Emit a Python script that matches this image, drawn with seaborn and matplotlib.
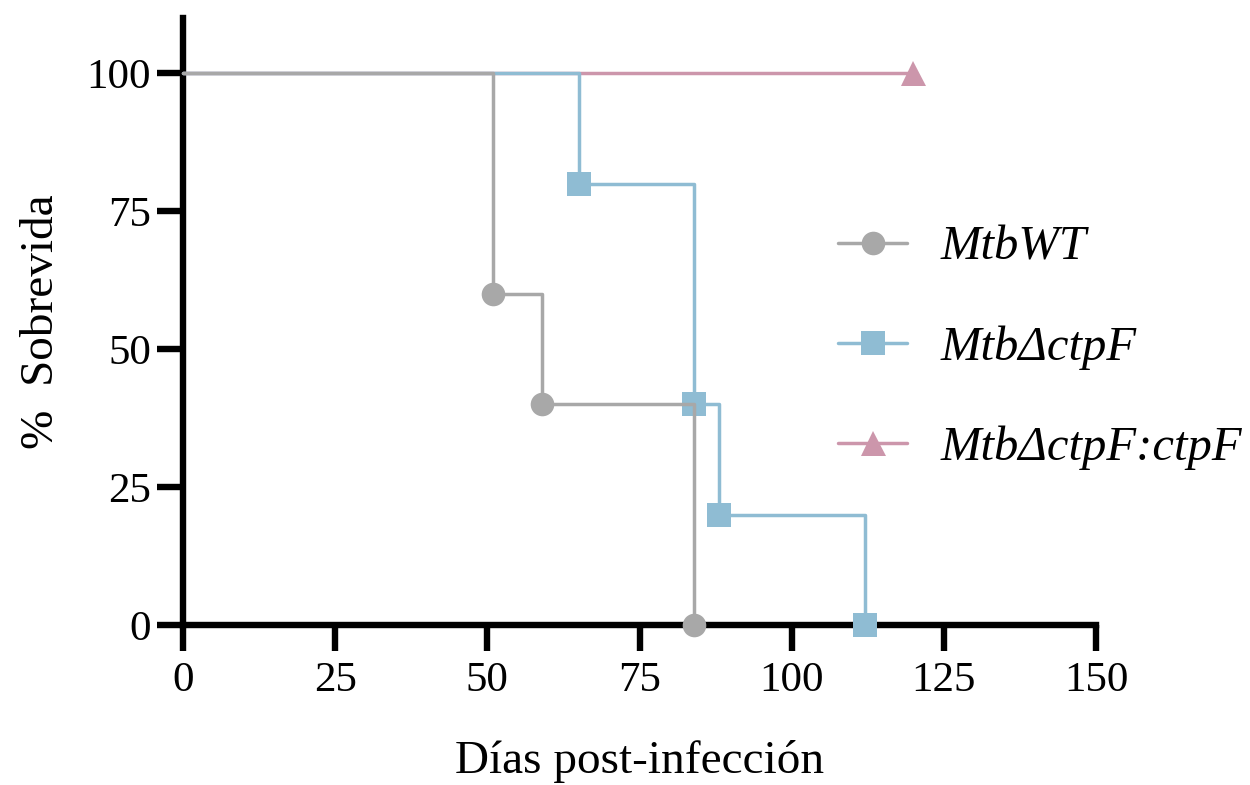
import matplotlib
matplotlib.use("Agg")
import matplotlib.pyplot as plt
from matplotlib.lines import Line2D
import seaborn as sns
import pandas as pd

# ---- data ----
wt_days = [0, 51, 59, 84]
wt_surv = [100, 60, 40, 0]
ko_days = [0, 65, 84, 88, 112]
ko_surv = [100, 80, 40, 20, 0]
comp_days = [0, 120]
comp_surv = [100, 100]

labels = ["MtbWT", "MtbΔctpF", "MtbΔctpF:ctpF"]
colors = ["#A8A8A8", "#8FBCD3", "#CC96AB"]
markers = ["o", "s", "^"]
xticks = [0, 25, 50, 75, 100, 125, 150]
yticks = [0, 25, 50, 75, 100]

sns.set_theme(style="ticks")
plt.rcParams["font.family"] = ["Liberation Serif", "DejaVu Serif"]
plt.rcParams["text.color"] = "black"

fig = plt.figure(figsize=(12.5, 7.85), dpi=100)
ax = fig.add_axes([183 / 1250, 160 / 785, 913 / 1250, 607 / 785])

series = [
    (comp_days, comp_surv, 2),
    (ko_days, ko_surv, 1),
    (wt_days, wt_surv, 0),
]
for days, surv, i in series:
    df = pd.DataFrame({"d": days, "s": surv})
    sns.lineplot(data=df, x="d", y="s", ax=ax, estimator=None, sort=False,
                 color=colors[i], linewidth=2.5, drawstyle="steps-post",
                 marker=markers[i], markersize=17 if i != 2 else 18,
                 markeredgewidth=0, markevery=list(range(1, len(days))),
                 clip_on=False, zorder=3 + (2 - i), legend=False)

ax.set_xlim(0, 150)
ax.set_ylim(0, 110)
ax.set_xticks(xticks)
ax.set_yticks(yticks)
ax.set_xticklabels([str(t) for t in xticks])
ax.set_yticklabels([str(t) for t in yticks])

for s in ["top", "right"]:
    ax.spines[s].set_visible(False)
for s in ["left", "bottom"]:
    ax.spines[s].set_linewidth(4.6)
    ax.spines[s].set_color("black")
    ax.spines[s].set_zorder(2)
ax.tick_params(axis="both", direction="out", length=19, width=4.6,
               color="black", labelsize=31, labelcolor="black")
ax.tick_params(axis="x", pad=7)
ax.tick_params(axis="y", pad=4)

ax.set_xlabel("Días post-infección", fontsize=34, color="black")
ax.set_ylabel("%  Sobrevida", fontsize=34, color="black")
ax.xaxis.set_label_coords(0.5, -0.19)
ax.yaxis.set_label_coords(-0.131, 0.5)

handles = [Line2D([], [], color=colors[i], linewidth=2.5, marker=markers[i],
                  markersize=17 if i != 2 else 18, markeredgewidth=0)
           for i in range(3)]
leg = ax.legend(handles, labels, loc="center left",
                bbox_to_anchor=(838 / 1250, 1 - 348 / 785),
                bbox_transform=fig.transFigure, frameon=False,
                prop={"family": "Liberation Serif", "style": "italic", "size": 35},
                handlelength=1.42, handletextpad=0.68, labelspacing=1.15,
                borderpad=0, borderaxespad=0, labelcolor="black")

fig.savefig("out.png", dpi=100, facecolor="white")
